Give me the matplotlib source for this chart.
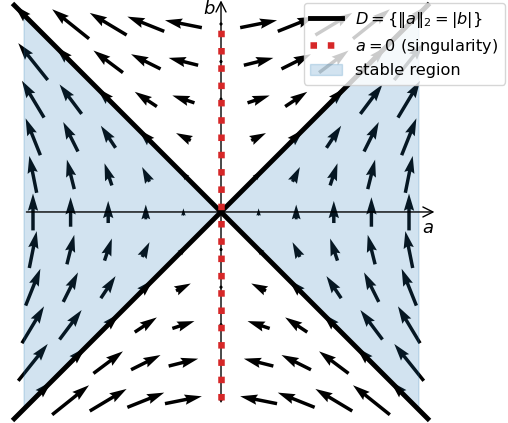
import numpy as np
import matplotlib
matplotlib.use("Agg")
import matplotlib.pyplot as plt

# grid coordinates
a_vals = [-2.0, -1.6, -1.2, -0.8, -0.4, 0.0, 0.4, 0.8, 1.2, 1.6, 2.0]
b_vals = [-2.0, -1.6, -1.2, -0.8, -0.4, 0.0, 0.4, 0.8, 1.2, 1.6, 2.0]

# vector field components (rows = b, columns = a)
U = [
    [2.0, 2.0, 2.0, 2.0, 2.0, 0.0, -2.0, -2.0, -2.0, -2.0, -2.0],
    [1.6, 1.6, 1.6, 1.6, 1.6, 0.0, -1.6, -1.6, -1.6, -1.6, -1.6],
    [1.2, 1.2, 1.2, 1.2, 1.2, 0.0, -1.2, -1.2, -1.2, -1.2, -1.2],
    [0.8, 0.8, 0.8, 0.8, 0.8, 0.0, -0.8, -0.8, -0.8, -0.8, -0.8],
    [0.4, 0.4, 0.4, 0.4, 0.4, 0.0, -0.4, -0.4, -0.4, -0.4, -0.4],
    [0.0, 0.0, 0.0, 0.0, 0.0, 0.0, 0.0, 0.0, 0.0, 0.0, 0.0],
    [-0.4, -0.4, -0.4, -0.4, -0.4, 0.0, 0.4, 0.4, 0.4, 0.4, 0.4],
    [-0.8, -0.8, -0.8, -0.8, -0.8, 0.0, 0.8, 0.8, 0.8, 0.8, 0.8],
    [-1.2, -1.2, -1.2, -1.2, -1.2, 0.0, 1.2, 1.2, 1.2, 1.2, 1.2],
    [-1.6, -1.6, -1.6, -1.6, -1.6, 0.0, 1.6, 1.6, 1.6, 1.6, 1.6],
    [-2.0, -2.0, -2.0, -2.0, -2.0, 0.0, 2.0, 2.0, 2.0, 2.0, 2.0],
]
V = [
    [2.0, 1.6, 1.2, 0.8, 0.4, 0.0, 0.4, 0.8, 1.2, 1.6, 2.0],
    [2.0, 1.6, 1.2, 0.8, 0.4, 0.0, 0.4, 0.8, 1.2, 1.6, 2.0],
    [2.0, 1.6, 1.2, 0.8, 0.4, 0.0, 0.4, 0.8, 1.2, 1.6, 2.0],
    [2.0, 1.6, 1.2, 0.8, 0.4, 0.0, 0.4, 0.8, 1.2, 1.6, 2.0],
    [2.0, 1.6, 1.2, 0.8, 0.4, 0.0, 0.4, 0.8, 1.2, 1.6, 2.0],
    [2.0, 1.6, 1.2, 0.8, 0.4, 0.0, 0.4, 0.8, 1.2, 1.6, 2.0],
    [2.0, 1.6, 1.2, 0.8, 0.4, 0.0, 0.4, 0.8, 1.2, 1.6, 2.0],
    [2.0, 1.6, 1.2, 0.8, 0.4, 0.0, 0.4, 0.8, 1.2, 1.6, 2.0],
    [2.0, 1.6, 1.2, 0.8, 0.4, 0.0, 0.4, 0.8, 1.2, 1.6, 2.0],
    [2.0, 1.6, 1.2, 0.8, 0.4, 0.0, 0.4, 0.8, 1.2, 1.6, 2.0],
    [2.0, 1.6, 1.2, 0.8, 0.4, 0.0, 0.4, 0.8, 1.2, 1.6, 2.0],
]

# boundary / regions
stable_a = [-2.1, 0.0, 2.1]
stable_half = [2.1, 0.0, 2.1]
d_line_a = [-2.2, 2.2]
sing_b = [-2.0, 2.0]

label_D = r'$D=\{\|a\|_2=|b|\}$'
label_sing = r'$a=0$ (singularity)'
label_stable = 'stable region'

fig = plt.figure(figsize=(5.08, 4.23), dpi=100)
ax = fig.add_axes([0, 0, 1, 1])
ax.axis('off')
ax.set_xlim(-2.351, 3.053)
ax.set_ylim(-2.245, 2.255)

A, B = np.meshgrid(a_vals, b_vals)
ax.quiver(A, B, np.array(U), np.array(V), color='k', pivot='middle',
          angles='xy', scale_units='xy', scale=5.1, width=0.0068, zorder=1)

sa = np.array(stable_a)
sh = np.array(stable_half)
ax.fill_between(sa, -sh, sh, color='tab:blue', alpha=0.2, zorder=1.5,
                label=label_stable)

dl = np.array(d_line_a)
ax.plot(dl, dl, color='k', lw=3.5, zorder=3, label=label_D)
ax.plot(dl, -dl, color='k', lw=3.5, zorder=3)

ax.annotate('', xy=(2.3, 0), xytext=(-2.1, 0), annotation_clip=False,
            arrowprops=dict(arrowstyle='->', color='k', lw=1, mutation_scale=18),
            zorder=2)
ax.annotate('', xy=(0, 2.28), xytext=(0, -2.05), annotation_clip=False,
            arrowprops=dict(arrowstyle='->', color='k', lw=1, mutation_scale=18),
            zorder=2)

ax.plot([0, 0], sing_b, color='tab:red', ls=':', lw=4.7, zorder=4,
        label=label_sing)

ax.text(2.14, -0.08, '$a$', fontsize=13, ha='left', va='top')
ax.text(-0.06, 2.26, '$b$', fontsize=13, ha='right', va='top')

h, l = ax.get_legend_handles_labels()
order = [l.index(label_D), l.index(label_sing), l.index(label_stable)]
ax.legend([h[i] for i in order], [l[i] for i in order], loc='upper right',
          fontsize=11.6, labelspacing=0.45, bbox_to_anchor=(1.0, 1.0),
          borderaxespad=0.2)

fig.savefig('out.png', dpi=100)
